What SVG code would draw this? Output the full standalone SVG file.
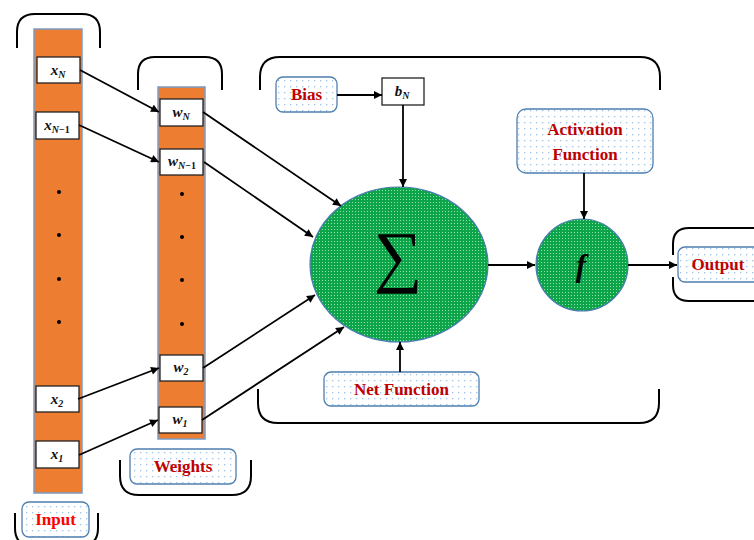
<svg xmlns="http://www.w3.org/2000/svg" width="754" height="540" viewBox="0 0 754 540">
  <defs>
    <pattern id="dots" width="6" height="6" patternUnits="userSpaceOnUse">
      <rect width="6" height="6" fill="#ffffff"/>
      <rect x="2" y="2" width="1.3" height="1.3" fill="#9dc3e6"/>
    </pattern>
    <pattern id="greenDots" width="3" height="3" patternUnits="userSpaceOnUse">
      <rect width="3" height="3" fill="#0ea54a"/>
      <rect x="1" y="1" width="1" height="1" fill="#8fe0aa"/>
    </pattern>
    <marker id="arrow" viewBox="0 0 10 10" refX="10" refY="5" markerWidth="9" markerHeight="8" markerUnits="userSpaceOnUse" orient="auto">
      <path d="M0,0 L10,5 L0,10 Z" fill="#000"/>
    </marker>
    <style>
      .column { fill: #ed7d31; stroke: #7a9cc4; stroke-width: 1.5; }
      .cell { fill: #ffffff; stroke: #222; stroke-width: 1.3; }
      .dot { fill: #000; }
      .brace { fill: none; stroke: #000; stroke-width: 2; }
      .label { fill: url(#dots); stroke: #4f7fb0; stroke-width: 1.3; }
      .ltext { font-family: "Liberation Serif", serif; font-weight: bold; font-size: 17px; fill: #c00000; text-anchor: middle; }
      .math { font-family: "Liberation Serif", serif; font-weight: bold; font-style: italic; font-size: 15px; fill: #111; text-anchor: middle; }
      .sub { font-size: 10px; }
      .subn { font-size: 10px; font-style: normal; }
      .node { fill: url(#greenDots); stroke: #4a7bb0; stroke-width: 1.2; }
      .conn { stroke: #000; stroke-width: 1.8; fill: none; marker-end: url(#arrow); }
    </style>
  </defs>

  <!-- grouping braces -->
  <g id="braces">
    <path class="brace" d="M17,48 L17,32 Q17,14 35,14 L82,14 Q100,14 100,32 L100,48"/>
    <path class="brace" d="M15,513 L15,528 Q15,546 33,546 L80,546 Q98,546 98,528 L98,513"/>
    <path class="brace" d="M138,90 L138,74 Q138,57 155,57 L205,57 Q222,57 222,74 L222,90"/>
    <path class="brace" d="M120,460 L120,476 Q120,495 139,495 L232,495 Q251,495 251,476 L251,460"/>
    <path class="brace" d="M260,90 L260,77 Q260,57 280,57 L640,57 Q660,57 660,77 L660,90"/>
    <path class="brace" d="M258,389 L258,403 Q258,423 278,423 L639,423 Q659,423 659,403 L659,389"/>
    <path class="brace" d="M754,228 L689,228 Q673,228 673,244 L673,255"/>
    <path class="brace" d="M673,277 L673,285 Q673,301 689,301 L754,301"/>
  </g>

  <!-- input vector -->
  <g id="input-column">
    <rect class="column" x="34" y="29" width="48" height="464"/>
    <rect class="cell" x="37" y="57" width="43" height="26"/>
    <text class="math" x="58" y="75">x<tspan class="sub" dy="3">N</tspan></text>
    <rect class="cell" x="36" y="112" width="43" height="27"/>
    <text class="math" x="57" y="130">x<tspan class="sub" dy="3">N</tspan><tspan class="subn">−1</tspan></text>
    <circle class="dot" cx="59" cy="192" r="2"/>
    <circle class="dot" cx="59" cy="235" r="2"/>
    <circle class="dot" cx="59" cy="279" r="2"/>
    <circle class="dot" cx="59" cy="322" r="2"/>
    <rect class="cell" x="36" y="386" width="43" height="26"/>
    <text class="math" x="57" y="404">x<tspan class="sub" dy="3">2</tspan></text>
    <rect class="cell" x="36" y="441" width="43" height="27"/>
    <text class="math" x="57" y="459">x<tspan class="sub" dy="3">1</tspan></text>
  </g>

  <!-- weight vector -->
  <g id="weight-column">
    <rect class="column" x="158" y="87" width="47" height="352"/>
    <rect class="cell" x="160" y="99" width="43" height="27"/>
    <text class="math" x="181" y="117">w<tspan class="sub" dy="3">N</tspan></text>
    <rect class="cell" x="160" y="149" width="43" height="26"/>
    <text class="math" x="182" y="166">w<tspan class="sub" dy="3">N</tspan><tspan class="subn">−1</tspan></text>
    <circle class="dot" cx="182" cy="194" r="2"/>
    <circle class="dot" cx="182" cy="237" r="2"/>
    <circle class="dot" cx="182" cy="280" r="2"/>
    <circle class="dot" cx="182" cy="324" r="2"/>
    <rect class="cell" x="160" y="355" width="43" height="26"/>
    <text class="math" x="181" y="372">w<tspan class="sub" dy="3">2</tspan></text>
    <rect class="cell" x="159" y="407" width="43" height="26"/>
    <text class="math" x="180" y="424">w<tspan class="sub" dy="3">1</tspan></text>
  </g>

  <!-- labels -->
  <g id="input-label">
    <rect class="label" x="22" y="502" width="67" height="35" rx="7"/>
    <text class="ltext" x="55.5" y="525" style="fill:#ff0000">Input</text>
  </g>
  <g id="weights-label">
    <rect class="label" x="130" y="449" width="106" height="35" rx="7"/>
    <text class="ltext" x="183" y="472">Weights</text>
  </g>
  <g id="bias-label">
    <rect class="label" x="276" y="77" width="61" height="35" rx="7"/>
    <text class="ltext" x="306.5" y="100">Bias</text>
  </g>
  <g id="bias-term">
    <rect class="cell" x="382" y="78" width="42" height="27"/>
    <text class="math" x="402" y="96">b<tspan class="sub" dy="3">N</tspan></text>
  </g>
  <g id="net-function-label">
    <rect class="label" x="324" y="372" width="155" height="34" rx="7"/>
    <text class="ltext" x="401.5" y="395">Net Function</text>
  </g>
  <g id="activation-label">
    <rect class="label" x="517" y="109" width="136" height="64" rx="9"/>
    <text class="ltext" x="585" y="135">Activation</text>
    <text class="ltext" x="585" y="160">Function</text>
  </g>
  <g id="output-label">
    <rect class="label" x="678" y="247" width="90" height="35" rx="7"/>
    <text class="ltext" x="718" y="270">Output</text>
  </g>

  <!-- summation node -->
  <g id="sum-node">
    <ellipse class="node" cx="399" cy="264.5" rx="89" ry="77.5"/>
    <text x="398" y="279" font-family="Liberation Serif, serif" font-size="68" text-anchor="middle" fill="#000">∑</text>
  </g>

  <!-- activation node -->
  <g id="activation-node">
    <circle class="node" cx="582" cy="265" r="46"/>
    <text x="581" y="276" font-family="Liberation Serif, serif" font-weight="bold" font-style="italic" font-size="31" text-anchor="middle" fill="#000">f</text>
  </g>

  <!-- connectors -->
  <g id="connectors">
    <line class="conn" x1="80" y1="70" x2="159" y2="112"/>
    <line class="conn" x1="79" y1="125" x2="159" y2="162"/>
    <line class="conn" x1="78" y1="399" x2="159" y2="368"/>
    <line class="conn" x1="79" y1="455" x2="158" y2="420"/>
    <line class="conn" x1="203" y1="112" x2="341" y2="206"/>
    <line class="conn" x1="204" y1="162" x2="313" y2="237"/>
    <line class="conn" x1="203" y1="368" x2="315" y2="295"/>
    <line class="conn" x1="202" y1="420" x2="344" y2="327"/>
    <line class="conn" x1="337" y1="95" x2="382" y2="95"/>
    <line class="conn" x1="403" y1="105" x2="403" y2="187"/>
    <line class="conn" x1="400" y1="372" x2="400" y2="342"/>
    <line class="conn" x1="584" y1="173" x2="584" y2="219"/>
    <line class="conn" x1="488" y1="265" x2="535" y2="265"/>
    <line class="conn" x1="628" y1="265" x2="677" y2="265"/>
  </g>
</svg>
